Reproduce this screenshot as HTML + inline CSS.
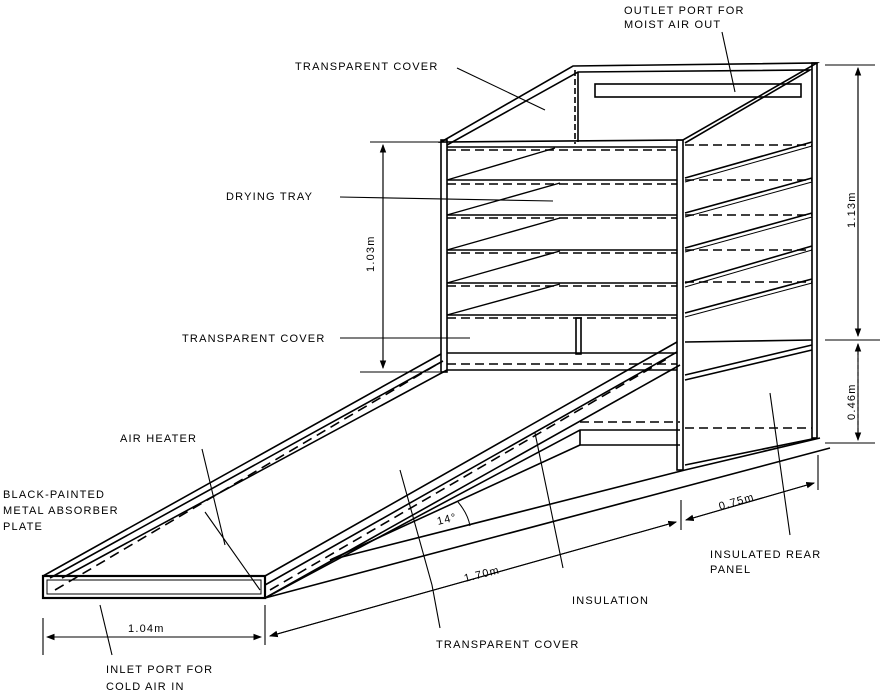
<!DOCTYPE html>
<html><head><meta charset="utf-8"><style>
html,body{margin:0;padding:0;background:#fff;}
svg{display:block}
text{font-family:"Liberation Sans",sans-serif;font-size:11px;fill:#000;letter-spacing:1.2px}
</style></head><body>
<svg width="885" height="696" viewBox="0 0 885 696" xmlns="http://www.w3.org/2000/svg">
<defs><marker id="a" markerWidth="8" markerHeight="8" refX="7" refY="4" orient="auto"><path d="M0,1 L8,4 L0,7z" fill="#000"/></marker></defs>
<g stroke="#000" fill="none" stroke-width="1.6">
<path d="M441,142 L573,66 L817,63 L683,140 Z"/>
<path d="M447,145 L578,72 L810,70 L685,143"/>
<path d="M575,70 L575,144" stroke-dasharray="6,3"/>
<path d="M578,72 L578,142"/>
<rect x="595" y="84" width="206" height="13"/>
<rect x="441" y="140" width="6" height="232"/>
<rect x="677" y="140" width="6" height="330"/>
<path d="M447,147 L677,147"/>
<path d="M447,180 L677,180 M447,215 L677,215 M447,250 L677,250 M447,283 L677,283 M447,315 L677,315 M447,353 L677,353 M447,370 L677,370"/>
<g stroke-dasharray="9,5" stroke-width="1.4">
<path d="M447,150 L677,150 M447,184 L677,184 M447,218 L677,218 M447,253 L677,253 M447,286 L677,286 M447,318 L677,318 M447,364 L677,364"/>
</g>
<g stroke-width="1.4">
<path d="M447,180 L555,148 M447,215 L560,183 M447,250 L560,218 M447,283 L560,251 M447,315 L560,284"/>
</g>
<rect x="576" y="318" width="5" height="36"/>
<rect x="812" y="63" width="5" height="375"/>
<path d="M685,178 L812,142 M685,213 L812,178 M685,248 L812,213 M685,283 L812,246 M685,313 L812,279"/>
<path d="M685,182 L812,146 M685,217 L812,182 M685,252 L812,217 M685,287 L812,250 M685,317 L812,283" stroke-width="1"/>
<path d="M685,342 L812,340 M685,375 L812,345 M685,380 L812,350 M685,465 L817,438"/>
<g stroke-dasharray="9,5"><path d="M685,145 L812,145 M685,180 L812,180 M685,215 L812,215 M685,250 L812,250 M685,282 L812,282 M685,428 L812,428"/></g>
<rect x="43" y="576" width="222" height="22" stroke-width="2.2"/>
<rect x="47" y="580" width="214" height="14" stroke-width="1"/>
<path d="M43,576 L441,354 M50,578 L443,361 M62,578 L447,370"/>
<path d="M55,590 L441,362" stroke-dasharray="10,6"/>
<path d="M265,576 L677,342 M265,585 L677,352 M265,598 L680,365"/>
<path d="M270,590 L670,357" stroke-dasharray="10,6"/>
<path d="M265,598 L580,430 L680,430 M580,430 L580,445 L680,445"/>
<path d="M580,422 L680,422" stroke-dasharray="9,5"/>
<path d="M265,598 L830,448 M330,560 L685,470 L820,438"/>
<path d="M330,560 L580,445"/>
<path d="M458,502 Q468,514 470,526" stroke-width="1"/>
<g stroke-width="1.1">
<path d="M43,618 L43,655 M265,605 L265,645"/>
<path d="M47,637 L261,637" marker-end="url(#a)"/><path d="M261,637 L47,637" marker-end="url(#a)"/>
<path d="M270,636 L676,522" marker-end="url(#a)"/><path d="M676,522 L270,636" marker-end="url(#a)"/>
<path d="M681,500 L681,530 M818,455 L818,490"/>
<path d="M686,520 L814,483" marker-end="url(#a)"/><path d="M814,483 L686,520" marker-end="url(#a)"/>
<path d="M383,145 L383,368" marker-end="url(#a)"/><path d="M383,368 L383,145" marker-end="url(#a)"/>
<path d="M370,142 L440,142 M360,372 L440,372"/>
<path d="M825,65 L875,65 M825,340 L880,340 M825,443 L875,443"/>
<path d="M858,68 L858,336" marker-end="url(#a)"/><path d="M858,336 L858,68" marker-end="url(#a)"/>
<path d="M858,344 L858,440" marker-end="url(#a)" stroke-dasharray="4,3"/><path d="M858,440 L858,344" marker-end="url(#a)"/>
<path d="M457,68 L545,110 M340,197 L553,201 M340,338 L470,338 M202,449 L225,545 M205,512 L260,590 M100,605 L112,655 M400,470 L432,585 M535,433 L563,568 M770,393 L790,535 M432,585 L440,628 M722,32 L735,92"/>
</g>
</g>
<text x="295" y="70">TRANSPARENT COVER</text>
<text x="624" y="14">OUTLET PORT FOR</text>
<text x="624" y="28">MOIST AIR OUT</text>
<text x="226" y="200">DRYING TRAY</text>
<text x="182" y="342">TRANSPARENT COVER</text>
<text x="120" y="442">AIR HEATER</text>
<text x="3" y="498">BLACK-PAINTED</text>
<text x="3" y="514">METAL ABSORBER</text>
<text x="3" y="530">PLATE</text>
<text x="438" y="525" font-size="10" transform="rotate(-14 438 525)">14°</text>
<text x="465" y="582" transform="rotate(-14 465 582)">1.70m</text>
<text x="720" y="510" transform="rotate(-16 720 510)">0.75m</text>
<text x="710" y="558">INSULATED REAR</text>
<text x="710" y="573">PANEL</text>
<text x="572" y="604">INSULATION</text>
<text x="128" y="632">1.04m</text>
<text x="436" y="648">TRANSPARENT COVER</text>
<text x="106" y="673">INLET PORT FOR</text>
<text x="106" y="690">COLD AIR IN</text>
<text x="0" y="0" transform="translate(374,272) rotate(-90)">1.03m</text>
<text x="0" y="0" transform="translate(855,228) rotate(-90)">1.13m</text>
<text x="0" y="0" transform="translate(855,420) rotate(-90)">0.46m</text>
</svg>
</body></html>
